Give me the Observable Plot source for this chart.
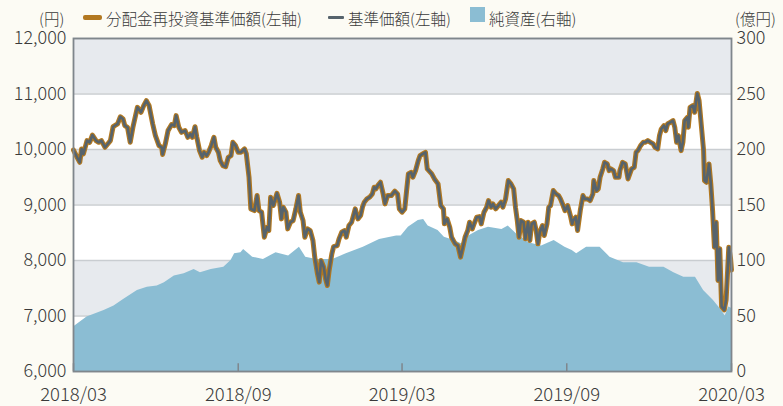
<!DOCTYPE html>
<html><head><meta charset="utf-8">
<script src="https://cdn.jsdelivr.net/npm/d3@7"></script>
<script src="https://cdn.jsdelivr.net/npm/@observablehq/plot@0.6"></script>
<style>
html,body{margin:0;padding:0;background:#fcfbf4;}
#wrap{position:relative;width:783px;height:406px;font-family:"Noto Sans CJK JP","Noto Sans",sans-serif;color:#3a3a3a;}
#legend{position:absolute;left:0;top:0;width:783px;height:28px;font-size:15.5px;font-weight:300;}
#legend span{position:absolute;top:9px;white-space:nowrap;line-height:18px;}
.sw{position:absolute;}
#chart{position:absolute;left:0;top:0;}
</style></head>
<body>
<div id="wrap">
<div id="chart"></div>
<div id="legend"></div>
</div>
<script>
// 基準価額 / 分配金再投資基準価額 (円, 左軸) — same values
const navDates = ["2018-03-31","2018-04-04","2018-04-07","2018-04-09","2018-04-11","2018-04-15","2018-04-18","2018-04-21","2018-04-25","2018-04-28","2018-05-01","2018-05-05","2018-05-08","2018-05-11","2018-05-14","2018-05-19","2018-05-22","2018-05-25","2018-05-27","2018-05-30","2018-06-02","2018-06-05","2018-06-10","2018-06-14","2018-06-17","2018-06-20","2018-06-23","2018-06-27","2018-06-30","2018-07-04","2018-07-07","2018-07-08","2018-07-11","2018-07-14","2018-07-18","2018-07-21","2018-07-23","2018-07-26","2018-07-29","2018-08-02","2018-08-05","2018-08-08","2018-08-10","2018-08-13","2018-08-15","2018-08-18","2018-08-21","2018-08-23","2018-08-26","2018-08-28","2018-08-31","2018-09-03","2018-09-05","2018-09-08","2018-09-10","2018-09-13","2018-09-16","2018-09-19","2018-09-22","2018-09-24","2018-09-27","2018-09-30","2018-10-03","2018-10-07","2018-10-09","2018-10-12","2018-10-14","2018-10-18","2018-10-21","2018-10-23","2018-10-26","2018-10-29","2018-11-01","2018-11-03","2018-11-05","2018-11-08","2018-11-12","2018-11-15","2018-11-17","2018-11-19","2018-11-22","2018-11-24","2018-11-27","2018-11-30","2018-12-03","2018-12-06","2018-12-08","2018-12-11","2018-12-13","2018-12-16","2018-12-19","2018-12-22","2018-12-24","2018-12-27","2018-12-29","2018-12-31","2019-01-03","2019-01-05","2019-01-07","2019-01-09","2019-01-12","2019-01-14","2019-01-18","2019-01-20","2019-01-23","2019-01-26","2019-01-28","2019-01-31","2019-02-03","2019-02-04","2019-02-07","2019-02-10","2019-02-13","2019-02-15","2019-02-17","2019-02-20","2019-02-23","2019-02-26","2019-02-28","2019-03-02","2019-03-04","2019-03-07","2019-03-10","2019-03-12","2019-03-15","2019-03-19","2019-03-23","2019-03-26","2019-03-28","2019-03-31","2019-04-03","2019-04-05","2019-04-07","2019-04-10","2019-04-12","2019-04-15","2019-04-18","2019-04-20","2019-04-23","2019-04-26","2019-04-28","2019-05-03","2019-05-06","2019-05-10","2019-05-13","2019-05-16","2019-05-17","2019-05-20","2019-05-23","2019-05-25","2019-05-29","2019-06-01","2019-06-04","2019-06-07","2019-06-09","2019-06-12","2019-06-14","2019-06-17","2019-06-19","2019-06-22","2019-06-25","2019-06-27","2019-06-30","2019-07-03","2019-07-05","2019-07-08","2019-07-10","2019-07-13","2019-07-16","2019-07-19","2019-07-21","2019-07-24","2019-07-27","2019-07-30","2019-08-02","2019-08-04","2019-08-06","2019-08-08","2019-08-10","2019-08-13","2019-08-15","2019-08-18","2019-08-20","2019-08-22","2019-08-25","2019-08-27","2019-08-29","2019-08-31","2019-09-03","2019-09-05","2019-09-08","2019-09-10","2019-09-12","2019-09-15","2019-09-18","2019-09-21","2019-09-23","2019-09-26","2019-09-28","2019-10-01","2019-10-04","2019-10-06","2019-10-07","2019-10-10","2019-10-12","2019-10-15","2019-10-18","2019-10-20","2019-10-23","2019-10-26","2019-10-29","2019-10-30","2019-11-02","2019-11-04","2019-11-06","2019-11-09","2019-11-11","2019-11-14","2019-11-16","2019-11-18","2019-11-21","2019-11-23","2019-11-27","2019-11-28","2019-12-01","2019-12-04","2019-12-07","2019-12-09","2019-12-11","2019-12-14","2019-12-16","2019-12-18","2019-12-21","2019-12-24","2019-12-26","2019-12-29","2020-01-01","2020-01-04","2020-01-06","2020-01-09","2020-01-11","2020-01-13","2020-01-16","2020-01-18","2020-01-20","2020-01-23","2020-01-26","2020-01-28","2020-01-30","2020-02-01","2020-02-04","2020-02-06","2020-02-08","2020-02-11","2020-02-12","2020-02-14","2020-02-17","2020-02-19","2020-02-22","2020-02-24","2020-02-27","2020-02-29","2020-03-01","2020-03-03","2020-03-06","2020-03-08","2020-03-10","2020-03-12","2020-03-14","2020-03-16","2020-03-18","2020-03-20","2020-03-23","2020-03-25","2020-03-27","2020-03-28","2020-03-30","2020-03-31"];
const navValues = [9990,9860,9770,10010,9920,10160,10130,10260,10160,10130,10160,10040,10100,10160,10410,10460,10590,10550,10430,10400,10130,10400,10760,10670,10790,10880,10790,10460,10250,10070,10040,9910,10100,10340,10450,10430,10610,10400,10310,10340,10220,10280,10220,10410,10220,9980,9860,9950,9890,9950,10070,10220,10040,9950,9800,9710,9690,9860,9890,10130,10070,9950,9950,10010,9920,9500,8930,8900,9170,8900,8870,8420,8600,8540,9140,8990,9210,9050,8750,8960,8870,8570,8690,8720,8930,9170,8870,8720,8420,8570,8540,8360,8060,7760,7610,8000,7880,7670,7550,7820,8120,8250,8270,8390,8510,8540,8420,8630,8690,8750,8930,8750,8810,8960,9050,9110,9140,9200,9320,9290,9350,9410,9200,9020,9170,9170,9250,9200,8930,8870,8930,9250,9560,9590,9500,9620,9800,9890,9920,9950,9650,9560,9470,9380,8990,8930,8660,8750,8600,8420,8300,8270,8060,8270,8420,8540,8690,8570,8660,8780,8790,8660,8870,8960,9080,8960,9020,8930,8990,9050,8960,9110,9440,9380,9290,8960,8720,8420,8720,8690,8390,8690,8360,8660,8690,8540,8300,8510,8630,8450,8660,8960,8990,9260,9200,9170,9110,8990,8900,8990,8810,8660,8720,8780,8540,8900,9170,9110,9110,9080,9200,9440,9260,9290,9500,9650,9770,9740,9620,9650,9620,9500,9500,9620,9770,9740,9470,9560,9650,9680,9950,9980,10070,10130,10130,10160,10130,10100,10040,10010,10250,10370,10430,10340,10460,10490,10520,10400,10130,10250,9980,10130,10520,10580,10400,10760,10790,10670,11010,10880,10340,9980,9440,9410,9740,9380,8900,8240,8690,7640,8210,7170,7110,7290,7910,8240,8030,7830];

// 純資産 (億円, 右軸)
const assetDates = ["2018-03-31","2018-04-15","2018-05-04","2018-05-15","2018-05-26","2018-06-10","2018-06-21","2018-07-02","2018-07-10","2018-07-21","2018-08-01","2018-08-12","2018-08-19","2018-08-31","2018-09-14","2018-09-22","2018-09-26","2018-10-03","2018-10-06","2018-10-16","2018-10-28","2018-11-11","2018-11-25","2018-12-07","2018-12-14","2018-12-26","2019-01-13","2019-01-28","2019-02-16","2019-03-06","2019-03-25","2019-03-30","2019-04-07","2019-04-18","2019-04-24","2019-04-29","2019-05-10","2019-05-17","2019-05-28","2019-06-05","2019-06-13","2019-06-24","2019-07-05","2019-07-20","2019-07-27","2019-08-05","2019-08-19","2019-09-02","2019-09-16","2019-09-28","2019-10-06","2019-10-11","2019-10-22","2019-11-06","2019-11-17","2019-12-02","2019-12-17","2019-12-31","2020-01-16","2020-01-27","2020-02-07","2020-02-20","2020-02-29","2020-03-11","2020-03-20","2020-03-24","2020-03-28","2020-03-31"];
const assetValues = [40,49,55,59,65,73,76,77,80,86,88,92,89,92,94,100,106,107,110,103,101,107,104,112,103,101,101,106,112,119,122,122,130,136,137,131,127,121,118,115,122,127,130,128,131,124,116,113,118,112,109,106,112,112,103,98,98,94,94,89,85,85,73,64,55,50,58,57];

const leftTicks = [6000,7000,8000,9000,10000,11000,12000];
const rightTicks = [0,50,100,150,200,250,300];
const xTickDates = ["2018-03-31","2018-09-30","2019-03-31","2019-09-30","2020-03-31"];
const grayBandLows = [11000,9000,7000];
const whiteBandLows = [10000,8000,6000];

const legendItems = ["分配金再投資基準価額(左軸)","基準価額(左軸)","純資産(右軸)"];
const leftUnit = "(円)", rightUnit = "(億円)";

const C = {brown:"#b27820", gray:"#56636c", blue:"#8bbdd3", band:"#e7eaee", white:"#ffffff", grid:"#c9cdd1", axis:"#7f868c", text:"#3a3a3a"};

const parse = d3.utcParse("%Y-%m-%d");
const nav = navDates.map((d,i)=>({date:parse(d), v:navValues[i]}));
const assets = assetDates.map((d,i)=>({date:parse(d), v:assetValues[i]}));
const xt = xTickDates.map(parse);
const x0 = parse("2018-03-31"), x1 = parse("2020-03-31");
const toLeft = v => 6000 + v*20; // 右軸(0–300億円) → 左軸(6,000–12,000円)

const plot = Plot.plot({
  width:783, height:406,
  marginTop:38, marginBottom:35, marginLeft:73, marginRight:52,
  style:{background:"transparent", fontFamily:'"Noto Sans CJK JP","Noto Sans",sans-serif', fontWeight:300, color:C.text, overflow:"visible"},
  x:{type:"utc", domain:[x0,x1]},
  y:{domain:[6000,12000]},
  marks:[
    Plot.rect(grayBandLows, {x1:()=>x0, x2:()=>x1, y1:d=>d, y2:d=>d+1000, fill:C.band}),
    Plot.rect(whiteBandLows, {x1:()=>x0, x2:()=>x1, y1:d=>d, y2:d=>d+1000, fill:C.white}),
    Plot.ruleY(leftTicks, {stroke:C.grid, strokeWidth:1.5}),
    Plot.areaY(assets, {x:"date", y1:6000, y2:d=>toLeft(d.v), fill:C.blue, curve:"linear"}),
    Plot.ruleX(xt, {y1:6000, y2:6140, stroke:C.axis, strokeWidth:1.5}),
    Plot.lineY(nav, {x:"date", y:"v", stroke:C.brown, strokeWidth:5, strokeLinejoin:"round", strokeLinecap:"round"}),
    Plot.lineY(nav, {x:"date", y:"v", stroke:C.gray, strokeWidth:2.6, strokeLinejoin:"round", strokeLinecap:"round"}),
    Plot.frame({stroke:C.axis, strokeWidth:1.8}),
    Plot.axisY(leftTicks, {anchor:"left", tickSize:0, tickPadding:7, fontSize:18, letterSpacing:0.4, tickFormat:d3.format(","), label:null}),
    Plot.axisY(rightTicks.map(toLeft), {anchor:"right", tickSize:0, tickPadding:5, fontSize:18, letterSpacing:1.2, tickFormat:d=>String((d-6000)/20), label:null}),
    Plot.axisX(xt, {anchor:"bottom", tickSize:0, tickPadding:16, fontSize:18.5, letterSpacing:1.2, tickFormat:d3.utcFormat("%Y/%m"), label:null})
  ]
});
document.getElementById("chart").appendChild(plot);

// legend row
const lg = document.getElementById("legend");
function span(text, left){ const s=document.createElement("span"); s.textContent=text; s.style.left=left+"px"; lg.appendChild(s); return s; }
function sw(left, top, w, h, color, r){ const s=document.createElement("div"); s.className="sw"; Object.assign(s.style,{left:left+"px",top:top+"px",width:w+"px",height:h+"px",background:color,borderRadius:(r||0)+"px"}); lg.appendChild(s); }
span(leftUnit, 39);
sw(83, 15, 19, 4.5, C.brown, 2);
span(legendItems[0], 106);
sw(328, 15.5, 16, 3, C.gray, 1);
span(legendItems[1], 348);
sw(470, 7, 15, 15, C.blue, 0);
span(legendItems[2], 489);
span(rightUnit, 735);
</script>
</body></html>
